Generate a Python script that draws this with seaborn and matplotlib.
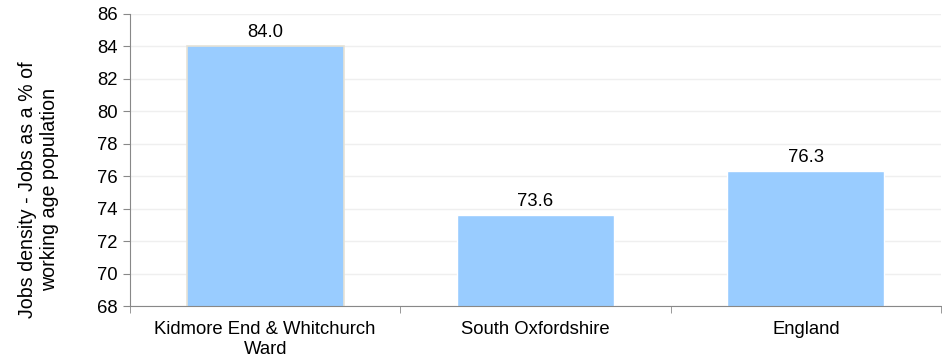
import numpy as np
import pandas as pd
import seaborn as sns
import matplotlib.pyplot as plt

# dane
areas = ["Kidmore End & Whitchurch\nWard", "South Oxfordshire", "England"]
density = [84.0, 73.6, 76.3]
y_ticks = [68, 70, 72, 74, 76, 78, 80, 82, 84, 86]

df = pd.DataFrame({"area": areas, "density": density})

sns.set_style("white")
plt.rcParams['font.family'] = ['Liberation Sans', 'DejaVu Sans']
plt.rcParams['text.color'] = 'black'
plt.rcParams['xtick.color'] = 'black'
plt.rcParams['ytick.color'] = 'black'
plt.rcParams['axes.labelcolor'] = 'black'

fig = plt.figure(figsize=(9.42, 3.64), dpi=100)
ax = fig.add_axes([0.138, 0.159, 0.861, 0.803])

sns.barplot(data=df, x="area", y="density", color="#99CCFF", width=0.58,
            saturation=1, ax=ax, zorder=2)
ax.patches[0].set_edgecolor("#e6e2d6")
ax.patches[0].set_linewidth(1.2)

ax.set_ylim(68, 86)
ax.set_yticks(y_ticks)
ax.set_xlim(-0.5, 2.5)
ax.yaxis.grid(True, color="#efefef", linewidth=1, zorder=0)

for i, v in enumerate(density):
    ax.text(i, v + 0.35, f"{v:.1f}", ha="center", va="bottom", fontsize=13.3)

for s in ["top", "right"]:
    ax.spines[s].set_visible(False)
ax.spines["left"].set_color("#888888")
ax.spines["bottom"].set_color("#888888")

ax.tick_params(axis="y", length=5, color="#888888", labelsize=13.3, left=True, pad=4)
ax.set_xticks(range(len(areas)))
ax.set_xticklabels(areas, multialignment="center", fontsize=13.3)
ax.tick_params(axis="x", length=0, pad=11)
ax.set_xticks([-0.5, 0.5, 1.5, 2.5], minor=True)
ax.tick_params(axis="x", which="minor", length=5, color="#888888", bottom=True)

ax.set_xlabel("")
ax.set_ylabel("Jobs density - Jobs as a % of\nworking age population", fontsize=14.1)
ax.yaxis.set_label_coords(-0.088, 0.40)

plt.savefig("out.png", dpi=100)
